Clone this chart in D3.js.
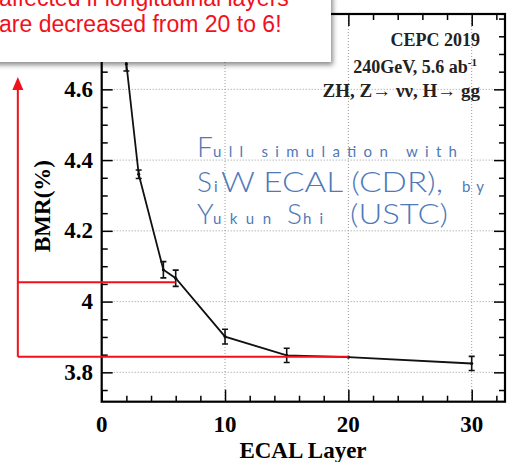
<!DOCTYPE html>
<html>
<head>
<meta charset="utf-8">
<script src="https://cdn.jsdelivr.net/npm/d3@7"></script>
<style>
  html, body { margin: 0; padding: 0; background: #fff; }
  svg { display: block; }
</style>
</head>
<body>
<svg id="chart" width="509" height="462"></svg>
<script>
// BMR versus number of ECAL layers
const layers   = [2, 3, 5, 6, 10, 15, 20, 30];
const bmr      = [4.672, 4.360, 4.090, 4.066, 3.901, 3.848, 3.843, 3.825];
const bmrErr   = [0.020, 0.012, 0.023, 0.023, 0.021, 0.020, 0.000, 0.020];

const xMajor = [0, 10, 20, 30];
const xLabels = ["0", "10", "20", "30"];
const yMajor = [3.8, 4.0, 4.2, 4.4, 4.6];
const yLabels = ["3.8", "4", "4.2", "4.4", "4.6"];

// reference levels of the annotation: 6 layers and 20 layers
const refLayers = [6, 20];
const refLevels = [4.055, 3.844];
const arrowLayer = -6.8;
const arrowTop = 4.635;

const calloutLines = ["affected if longitudinal layers", "are decreased from 20 to 6!"];

const svg = d3.select("#chart");
const m = { left: 101.7, right: 505, top: 14, bottom: 401.7 };

const x = d3.scaleLinear().domain([0, 32.7]).range([m.left, m.right]);
const y = d3.scaleLinear().domain([3.717, 4.813]).range([m.bottom, m.top]);

const defs = svg.append("defs");
const shadow = defs.append("filter").attr("id", "shadow")
  .attr("x", "-20%").attr("y", "-20%").attr("width", "140%").attr("height", "160%");
shadow.append("feDropShadow").attr("dx", 2).attr("dy", 3)
  .attr("stdDeviation", 2.5).attr("flood-color", "#000").attr("flood-opacity", 0.45);

const clip = defs.append("clipPath").attr("id", "plotclip");
clip.append("rect").attr("x", m.left).attr("y", m.top)
  .attr("width", m.right - m.left).attr("height", m.bottom - m.top);

// grid
const grid = svg.append("g").attr("stroke", "#9a9a9a").attr("stroke-width", 1)
  .attr("stroke-dasharray", "1,2");
grid.selectAll("line.h").data(yMajor).join("line")
  .attr("x1", m.left).attr("x2", m.right)
  .attr("y1", d => y(d)).attr("y2", d => y(d));
grid.selectAll("line.v").data(xMajor.filter(d => d > 0)).join("line")
  .attr("y1", m.top).attr("y2", m.bottom)
  .attr("x1", d => x(d)).attr("x2", d => x(d));

// axes (ticks point into the frame)
const xMinor = d3.range(0, 33, 2).filter(d => !xMajor.includes(d));
const yMinor = d3.range(3.75, 4.81, 0.05).map(d => +d.toFixed(2)).filter(d => !yMajor.some(v => Math.abs(v - d) < 1e-6));

function tickGroup(axisFn, scale, values, size, tx, ty) {
  const g = svg.append("g").attr("transform", `translate(${tx},${ty})`)
    .call(axisFn(scale).tickValues(values).tickSize(size).tickFormat(""));
  g.select(".domain").remove();
  g.selectAll(".tick line").attr("stroke", "#000").attr("stroke-width", 1.5);
  return g;
}
tickGroup(d3.axisBottom, x, xMajor, -12, 0, m.bottom);
tickGroup(d3.axisBottom, x, xMinor, -6, 0, m.bottom);
tickGroup(d3.axisTop, x, xMajor, -12, 0, m.top);
tickGroup(d3.axisTop, x, xMinor, -6, 0, m.top);
tickGroup(d3.axisLeft, y, yMajor, -11, m.left, 0);
tickGroup(d3.axisLeft, y, yMinor, -6, m.left, 0);
tickGroup(d3.axisRight, y, yMajor, -11, m.right, 0);
tickGroup(d3.axisRight, y, yMinor, -6, m.right, 0);

// tick labels
const serif = "'Liberation Serif', 'Times New Roman', serif";
svg.append("g").selectAll("text").data(xMajor).join("text")
  .attr("x", d => x(d)).attr("y", 432)
  .attr("text-anchor", "middle")
  .attr("font-family", serif).attr("font-weight", "bold").attr("font-size", 23)
  .text((d, i) => xLabels[i]);
svg.append("g").selectAll("text").data(yMajor).join("text")
  .attr("x", 93).attr("y", d => y(d) + 7.5)
  .attr("text-anchor", "end")
  .attr("font-family", serif).attr("font-weight", "bold").attr("font-size", 23)
  .text((d, i) => yLabels[i]);

// axis titles
svg.append("text").attr("x", 303).attr("y", 458)
  .attr("text-anchor", "middle")
  .attr("font-family", serif).attr("font-weight", "bold").attr("font-size", 23)
  .text("ECAL Layer");
svg.append("text").attr("transform", "translate(50,206) rotate(-90)")
  .attr("text-anchor", "middle")
  .attr("font-family", serif).attr("font-weight", "bold").attr("font-size", 23)
  .text("BMR(%)");

// data: polyline and error bars
const pts = layers.map((l, i) => ({ l, v: bmr[i], e: bmrErr[i] }));
const plot = svg.append("g").attr("clip-path", "url(#plotclip)");
plot.append("path").datum(pts)
  .attr("fill", "none").attr("stroke", "#111").attr("stroke-width", 1.8)
  .attr("d", d3.line().x(d => x(d.l)).y(d => y(d.v)));
const eb = plot.append("g").attr("stroke", "#111").attr("stroke-width", 1.6);
pts.filter(d => d.e > 0).forEach(d => {
  const cx = x(d.l);
  eb.append("line").attr("x1", cx).attr("x2", cx).attr("y1", y(d.v - d.e)).attr("y2", y(d.v + d.e));
  eb.append("line").attr("x1", cx - 3).attr("x2", cx + 3).attr("y1", y(d.v - d.e)).attr("y2", y(d.v - d.e));
  eb.append("line").attr("x1", cx - 3).attr("x2", cx + 3).attr("y1", y(d.v + d.e)).attr("y2", y(d.v + d.e));
});
plot.selectAll("circle").data(pts).join("circle")
  .attr("cx", d => x(d.l)).attr("cy", d => y(d.v)).attr("r", 1.6).attr("fill", "#111");

// frame
svg.append("rect").attr("x", m.left).attr("y", m.top)
  .attr("width", m.right - m.left).attr("height", m.bottom - m.top)
  .attr("fill", "none").attr("stroke", "#000").attr("stroke-width", 2.2);

// header text block
const info = svg.append("g").attr("font-family", serif).attr("font-weight", "bold")
  .attr("text-anchor", "end").attr("fill", "#222");
info.append("text").attr("x", 480).attr("y", 46).attr("font-size", 18).text("CEPC 2019");
const t2 = info.append("text").attr("x", 477).attr("y", 73).attr("font-size", 18);
t2.append("tspan").text("240GeV, 5.6 ab");
t2.append("tspan").attr("font-size", 11).attr("dy", -7).text("-1");
info.append("text").attr("x", 480).attr("y", 97).attr("font-size", 19)
  .text("ZH, Z\u2192  \u03bd\u03bd, H\u2192 gg");

// blue simulation note: large initials, small letter-spaced lowercase
const blue = "#4f79b9";
const note = svg.append("g").attr("font-family", "Lato, 'Open Sans', sans-serif").attr("fill", blue);
const noteParts = [
  // [text, line baseline, start x, fitted width, large?]
  ["F", 157, 197, 0, true],
  ["ull simulation with", 157, 213, 244, false],
  ["S", 192, 197, 0, true],
  ["i", 192, 214, 0, false],
  ["W ECAL (CDR),", 192, 221, 222, true],
  ["by", 192, 462, 22, false],
  ["Y", 224, 197, 0, true],
  ["ukun", 224, 213, 58, false],
  ["S", 224, 287, 0, true],
  ["hi", 224, 303, 20, false],
  ["(USTC)", 224, 350, 98, true]
];
noteParts.forEach(([s, yy, xx, len, big]) => {
  const t = note.append("text").attr("x", xx).attr("y", yy)
    .attr("font-size", big ? 28 : 15)
    .attr("font-weight", big ? 300 : 400)
    .text(s);
  if (len > 0) t.attr("textLength", len).attr("lengthAdjust", big ? "spacingAndGlyphs" : "spacing");
});

// red annotation: reference levels and upward arrow
const red = "#f2101a";
const ann = svg.append("g").attr("stroke", red).attr("stroke-width", 2).attr("fill", "none");
refLayers.forEach((l, i) => {
  ann.append("line").attr("x1", x(arrowLayer)).attr("x2", x(l))
    .attr("y1", y(refLevels[i])).attr("y2", y(refLevels[i]));
});
ann.append("line").attr("x1", x(arrowLayer)).attr("x2", x(arrowLayer))
  .attr("y1", y(refLevels[1])).attr("y2", y(arrowTop) + 10);
const ax = x(arrowLayer), ay = y(arrowTop);
svg.append("path").attr("fill", red)
  .attr("d", `M${ax},${ay} L${ax - 5.5},${ay + 13} L${ax + 5.5},${ay + 13} Z`);

// callout box with the remark
svg.append("rect").attr("x", -10).attr("y", -10).attr("width", 341).attr("height", 72)
  .attr("fill", "#fff").attr("filter", "url(#shadow)");
const callout = svg.append("g").attr("font-family", "'Liberation Sans', Arial, sans-serif")
  .attr("font-size", 23).attr("fill", red);
calloutLines.forEach((s, i) => {
  callout.append("text").attr("x", -1).attr("y", 6 + i * 26).text(s);
});
</script>
</body>
</html>
